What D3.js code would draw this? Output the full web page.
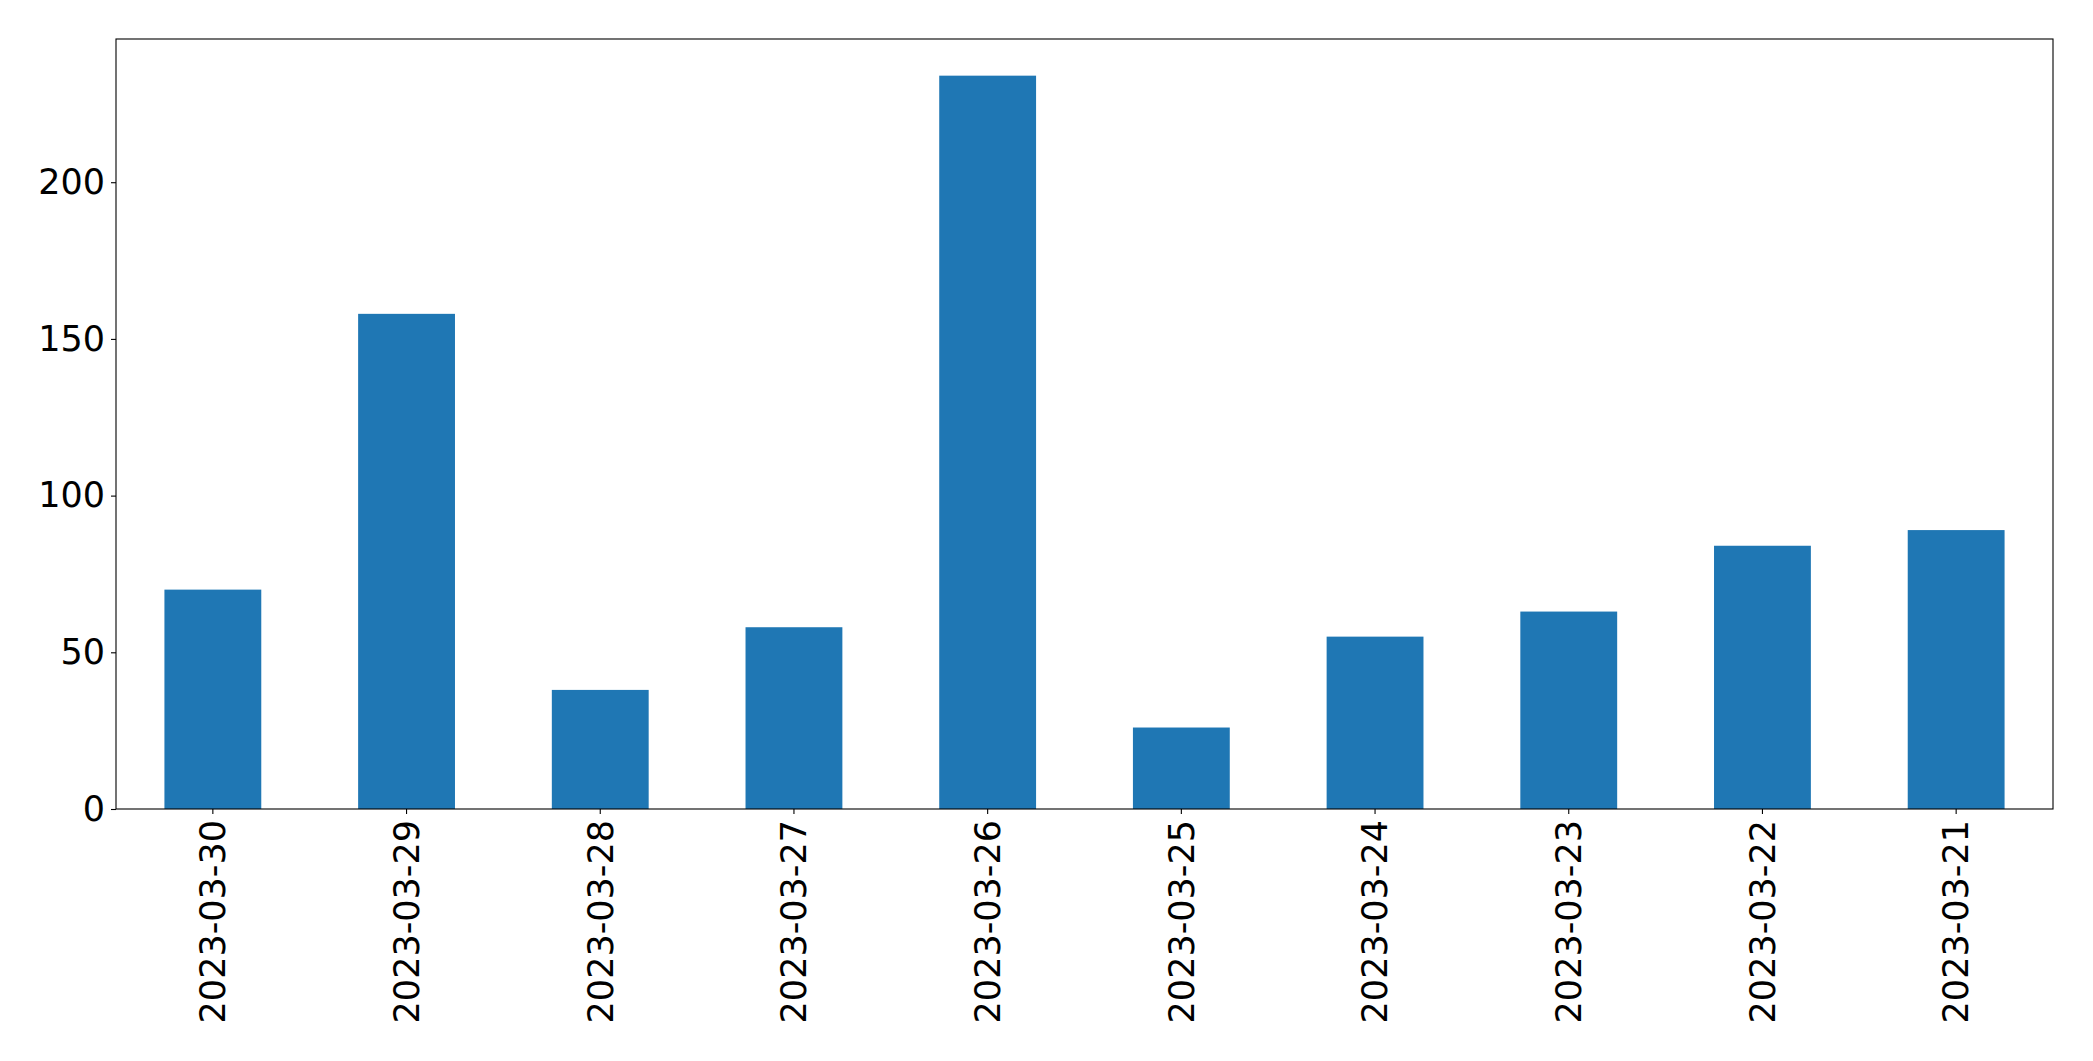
<!DOCTYPE html>
<meta charset="utf-8">
<style>
body { margin: 0; background: #fff; }
.tick text { font-family: "DejaVu Sans", sans-serif; font-size: 35px; fill: #000; }
</style>
<body>
<script src="https://cdn.jsdelivr.net/npm/d3@7"></script>
<script>

// dates as they appear along the x axis (newest first)
var dates = ["2023-03-30", "2023-03-29", "2023-03-28", "2023-03-27", "2023-03-26",
             "2023-03-25", "2023-03-24", "2023-03-23", "2023-03-22", "2023-03-21"];

// one count per date
var counts = [70, 158, 38, 58, 234, 26, 55, 63, 84, 89];

var yTicks = [0, 50, 100, 150, 200];

var width = 2093,
    height = 1061;

var margin = {top: 39, right: 40, bottom: 252, left: 116};

var svg = d3.select("body").append("svg")
    .attr("width", width)
    .attr("height", height);

var x = d3.scaleBand()
    .domain(dates)
    .range([margin.left, width - margin.right])
    .paddingInner(0.5)
    .paddingOuter(0.25);

var y = d3.scaleLinear()
    .domain([0, d3.max(counts) * 1.05])
    .range([height - margin.bottom, margin.top]);

// bars
svg.selectAll(".bar")
    .data(counts)
  .enter().append("rect")
    .attr("class", "bar")
    .attr("x", function(d, i) { return x(dates[i]); })
    .attr("y", function(d) { return y(d); })
    .attr("width", x.bandwidth())
    .attr("height", function(d) { return y(0) - y(d); })
    .style("fill", "#1f77b4");

// axes
var xAxis = svg.append("g")
    .attr("transform", "translate(0," + (height - margin.bottom) + ")")
    .call(d3.axisBottom(x).tickSize(5).tickPadding(5).tickSizeOuter(0));

xAxis.selectAll("text")
    .attr("transform", "rotate(-90)")
    .attr("text-anchor", "end")
    .attr("x", -11)
    .attr("y", 0)
    .attr("dy", "0.35em");

var yAxis = svg.append("g")
    .attr("transform", "translate(" + margin.left + ",0)")
    .call(d3.axisLeft(y).tickValues(yTicks).tickSize(5).tickPadding(6).tickSizeOuter(0));

svg.selectAll(".domain").remove();
svg.selectAll(".tick line").attr("stroke", "#000").attr("stroke-width", 1.1);

// frame round the plot
svg.append("rect")
    .attr("x", margin.left)
    .attr("y", margin.top)
    .attr("width", width - margin.right - margin.left)
    .attr("height", height - margin.bottom - margin.top)
    .style("fill", "none")
    .style("stroke", "#000")
    .style("stroke-width", 1.1);

</script>
</body>
